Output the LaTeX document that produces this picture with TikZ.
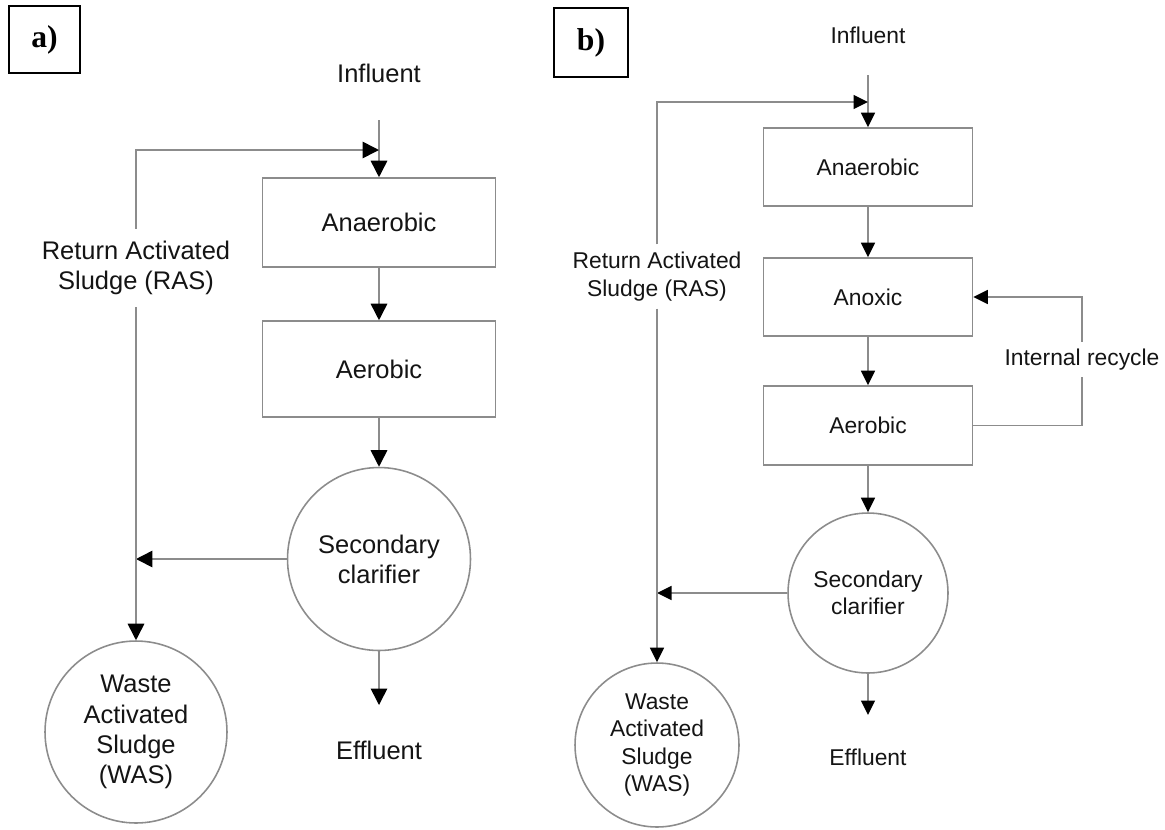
\documentclass[tikz,border=0pt]{standalone}
\usepackage{fontspec}
\setmainfont{Liberation Sans}
\newfontfamily\tagfont{Liberation Serif}
\usetikzlibrary{arrows.meta,positioning}
\definecolor{linie}{RGB}{140,140,140}
\definecolor{schrift}{RGB}{20,20,20}
\tikzset{>={Triangle[length=0.33cm,width=0.33cm,color=black]}}

\begin{document}
\begin{tikzpicture}[x=0.02cm,y=-0.02cm]
    \tikzset{
      box/.style={draw=linie, line width=0.9pt, rectangle, text=schrift},
      tank/.style={draw=linie, line width=0.9pt, circle, align=center, text=schrift, inner sep=0pt},
      flow/.style={draw=linie, line width=0.9pt, ->},
      pipe/.style={draw=linie, line width=0.9pt},
      word/.style={text=schrift, align=center},
      panel/.style={draw=black, line width=0.8pt, font=\tagfont\bfseries\fontsize{18}{20}\selectfont},
    }
    \useasboundingbox (0,0) rectangle (1165,829);

    % Panel labels.
    \node[panel, minimum width=1.42cm, minimum height=1.34cm] (tagA) at (44.5,39.5) {a)};
    \node[panel, minimum width=1.48cm, minimum height=1.38cm] (tagB) at (591,42.5) {b)};

    % a) anaerobic -- aerobic.
    \begin{scope}[font=\fontsize{14.5}{17.2}\selectfont]
    \coordinate (a-in)  at (379,120); % influent line start
    \coordinate (a-j)   at (379,150); % RAS joins influent
    \coordinate (a-out) at (379,705); % effluent arrow tip

    \node[word] (inflA) at (379,73) {Influent};
    \node[box, minimum width=4.66cm, minimum height=1.78cm] (anaA) at (379,222.5) {Anaerobic};
    \node[box, minimum width=4.66cm, minimum height=1.92cm] (aerA) at (379,369) {Aerobic};
    \node[tank, minimum size=3.66cm] (clarA) at (379,559) {Secondary\\clarifier};
    \node[tank, minimum size=3.64cm] (wasA) at (136,732) {Waste\\Activated\\Sludge\\(WAS)};
    \node[word, inner ysep=0.24cm] (rasA) at (136,268) {Return Activated\\Sludge (RAS)};
    \node[word] (effA) at (379,750) {Effluent};

    \draw[flow] (a-in) -- (anaA.north);
    \draw[flow] (rasA.north) |- (a-j);
    \draw[flow] (anaA) -- (aerA);
    \draw[flow] (aerA) -- (clarA);
    \draw[flow] (clarA.west) -- (clarA.west -| rasA);
    \draw[flow] (rasA.south) -- (wasA.north);
    \draw[flow] (clarA.south) -- (a-out);
    \end{scope}

    % b) anaerobic -- anoxic -- aerobic.
    \begin{scope}[font=\fontsize{13}{15.5}\selectfont, >={Triangle[length=0.29cm,width=0.28cm,color=black]}]
    \coordinate (b-in)  at (868,75);
    \coordinate (b-j)   at (868,102);
    \coordinate (b-out) at (868,715);

    \node[word] (inflB) at (868,35) {Influent};
    \node[box, minimum width=4.18cm, minimum height=1.56cm] (anaB) at (868,167) {Anaerobic};
    \node[box, minimum width=4.18cm, minimum height=1.56cm] (anoB) at (868,297) {Anoxic};
    \node[box, minimum width=4.18cm, minimum height=1.58cm] (aerB) at (868,425.5) {Aerobic};
    \node[tank, minimum size=3.2cm] (clarB) at (868,593) {Secondary\\clarifier};
    \node[tank, minimum size=3.28cm] (wasB) at (657,745) {Waste\\Activated\\Sludge\\(WAS)};
    \node[word, inner ysep=0.15cm] (rasB) at (657,276.5) {Return Activated\\Sludge (RAS)};
    \node[word, inner ysep=0.135cm] (recB) at (1082,359.5) {Internal recycle};
    \node[word] (effB) at (868,757) {Effluent};

    \draw[flow] (b-in) -- (anaB.north);
    \draw[flow] (rasB.north) |- (b-j);
    \draw[flow] (anaB) -- (anoB);
    \draw[flow] (anoB) -- (aerB);
    \draw[flow] (aerB) -- (clarB);
    \draw[pipe] (aerB.east) -| (recB.south);
    \draw[flow] (recB.north) |- (anoB.east);
    \draw[flow] (clarB.west) -- (clarB.west -| rasB);
    \draw[flow] (rasB.south) -- (wasB.north);
    \draw[flow] (clarB.south) -- (b-out);
    \end{scope}

\end{tikzpicture}
\end{document}
